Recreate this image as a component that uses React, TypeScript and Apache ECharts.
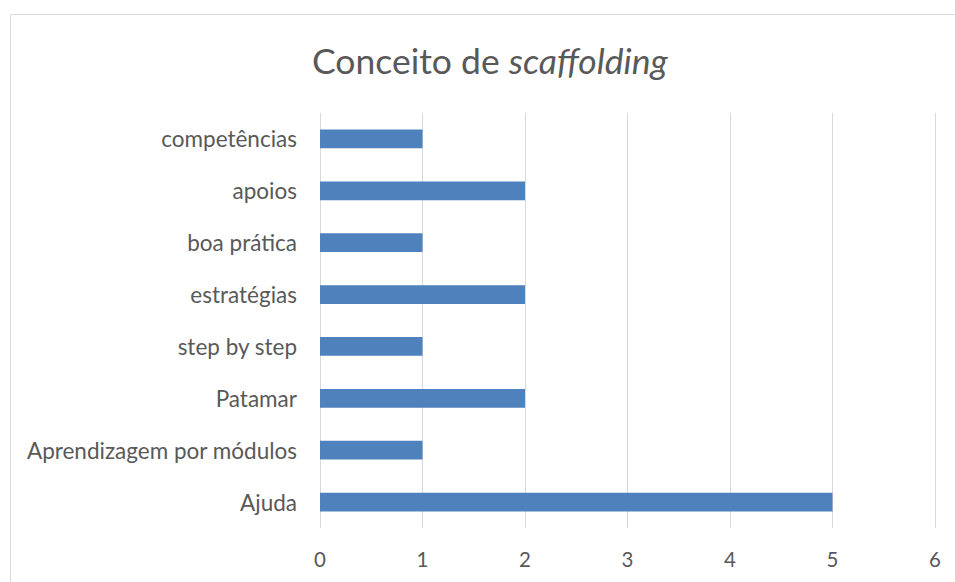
import React, { useEffect, useRef } from "react";
import * as echarts from "echarts";

const categories = [
  "Ajuda",
  "Aprendizagem por módulos",
  "Patamar",
  "step by step",
  "estratégias",
  "boa prática",
  "apoios",
  "competências",
];
const values = [5, 1, 2, 1, 2, 1, 2, 1];
const titleMain = "Conceito de ";
const titleItalic = "scaffolding";
const xMin = 0;
const xMax = 6;
const xInterval = 1;

const FONT = "Lato, 'Open Sans', sans-serif";
const TEXT = "#595959";

export default function App() {
  const ref = useRef<HTMLDivElement>(null);
  useEffect(() => {
    if (!ref.current) return;
    const chart = echarts.init(ref.current, null, { renderer: "svg" });
    chart.setOption({
      animation: false,
      backgroundColor: "#ffffff",
      title: {
        text: `{n|${titleMain}}{i|${titleItalic}}`,
        left: 307,
        top: 37,
        textStyle: {
          fontWeight: "normal",
          rich: {
            n: { fontFamily: FONT, fontSize: 35.5, color: TEXT, fontWeight: "normal" },
            i: { fontFamily: FONT, fontSize: 35.5, color: TEXT, fontStyle: "italic", fontWeight: "normal" },
          },
        },
      },
      graphic: [
        {
          type: "rect",
          shape: { x: 10.5, y: 14.5, width: 1000, height: 700 },
          style: { fill: "none", stroke: "#D9D9D9", lineWidth: 1 },
          z: -1,
        },
      ],
      grid: { left: 320, right: 20, top: 113, bottom: 54 },
      xAxis: {
        type: "value",
        min: xMin,
        max: xMax,
        interval: xInterval,
        axisLine: { show: false },
        axisTick: { show: false },
        splitLine: { show: true, lineStyle: { color: "#D9D9D9", width: 1 } },
        axisLabel: { color: TEXT, fontFamily: FONT, fontSize: 20.5, margin: 20 },
      },
      yAxis: {
        type: "category",
        data: categories,
        axisLine: { show: false },
        axisTick: { show: false },
        axisLabel: { color: TEXT, fontFamily: FONT, fontSize: 22.5, margin: 23 },
      },
      series: [
        {
          type: "bar",
          data: values,
          barWidth: "36%",
          itemStyle: { color: "#4F81BD" },
        },
      ],
    });
    return () => chart.dispose();
  }, []);
  return (
    <div
      ref={ref}
      style={{ position: "fixed", left: 0, top: 0, width: 955, height: 582 }}
    />
  );
}
